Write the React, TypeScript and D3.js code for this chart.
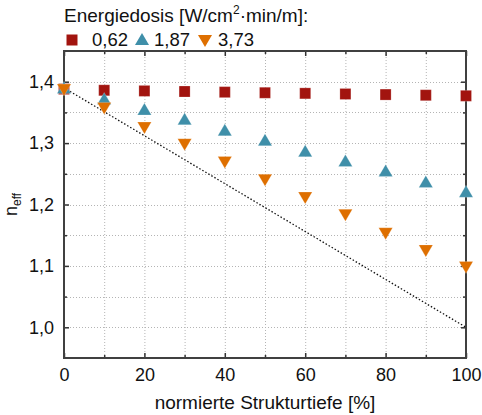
import React, { useRef, useEffect } from "react";
import * as d3 from "d3";

// normierte Strukturtiefe [%]
const depth = [0, 10, 20, 30, 40, 50, 60, 70, 80, 90, 100];

// n_eff per Energiedosis
const dose062 = [1.388, 1.386, 1.385, 1.384, 1.383, 1.382, 1.381, 1.38, 1.379, 1.378, 1.377];
const dose187 = [1.389, 1.371, 1.354, 1.338, 1.32, 1.304, 1.286, 1.27, 1.254, 1.236, 1.22];
const dose373 = [1.388, 1.358, 1.326, 1.299, 1.27, 1.241, 1.212, 1.184, 1.154, 1.126, 1.099];

const seriesNames = ["0,62", "1,87", "3,73"];
const seriesColors = ["#a2140f", "#3f8fa9", "#de6f00"];
const seriesShapes = ["square", "up", "down"];

// dotted reference line
const refX = [0, 100];
const refY = [1.39, 1.0];

const xTicks = [0, 20, 40, 60, 80, 100];
const yTicks = [1.0, 1.1, 1.2, 1.3, 1.4];

const FONT = "'Liberation Sans', Arial, sans-serif";

const App = () => {
  const ref = useRef<SVGSVGElement>(null);

  useEffect(() => {
    const svg = d3.select(ref.current);
    svg.selectAll("*").remove();

    const margin = { top: 51, right: 16, bottom: 57, left: 64 };
    const width = 482;
    const height = 415;

    const x = d3.scaleLinear().domain([0, 100]).range([margin.left, width - margin.right]);
    const y = d3.scaleLinear().domain([0.95, 1.45]).range([height - margin.bottom, margin.top]);

    const [x0, x1] = x.range();
    const [y0, y1] = y.range();

    // grid
    const grid = svg.append("g").attr("stroke", "#b4b4b4").attr("stroke-width", 1).attr("stroke-dasharray", "1,2");
    grid
      .selectAll(".gx")
      .data(d3.range(10, 100, 10))
      .join("line")
      .attr("x1", (d) => x(d) + 0.5)
      .attr("x2", (d) => x(d) + 0.5)
      .attr("y1", y1)
      .attr("y2", y0);
    grid
      .selectAll(".gy")
      .data(d3.range(1.0, 1.45, 0.05))
      .join("line")
      .attr("x1", x0)
      .attr("x2", x1)
      .attr("y1", (d) => Math.round(y(d)) + 0.5)
      .attr("y2", (d) => Math.round(y(d)) + 0.5);

    // reference line
    const line = d3
      .line<number>()
      .x((_, i) => x(refX[i]))
      .y((d) => y(d));
    svg
      .append("path")
      .attr("d", line(refY))
      .attr("fill", "none")
      .attr("stroke", "#111")
      .attr("stroke-width", 1.3)
      .attr("stroke-dasharray", "1.5,2");

    // axes with inward ticks on all sides
    const tickStroke = "#333";
    const xMinor = d3.range(10, 100, 20);
    const yMinor = d3.range(0.95, 1.45, 0.1).map((d) => +d.toFixed(2)).filter((d) => d > 0.95);

    const bottom = svg.append("g").attr("transform", `translate(0,${y0})`);
    bottom
      .call(d3.axisBottom(x).tickValues(xTicks).tickSize(-5).tickPadding(10).tickFormat(d3.format("d")))
      .call((g) => g.select(".domain").remove());
    bottom.append("g").call(d3.axisBottom(x).tickValues(xMinor).tickSize(-3).tickFormat(() => ""))
      .call((g) => g.select(".domain").remove());

    const top = svg.append("g").attr("transform", `translate(0,${y1})`);
    top.call(d3.axisTop(x).tickValues(xTicks).tickSize(-5).tickFormat(() => "")).call((g) => g.select(".domain").remove());
    top.append("g").call(d3.axisTop(x).tickValues(xMinor).tickSize(-3).tickFormat(() => ""))
      .call((g) => g.select(".domain").remove());

    const left = svg.append("g").attr("transform", `translate(${x0},0)`);
    left
      .call(d3.axisLeft(y).tickValues(yTicks).tickSize(-5).tickPadding(10).tickFormat((d) => d3.format(".1f")(d as number).replace(".", ",")))
      .call((g) => g.select(".domain").remove());
    left.append("g").call(d3.axisLeft(y).tickValues(yMinor).tickSize(-3).tickFormat(() => ""))
      .call((g) => g.select(".domain").remove());

    const right = svg.append("g").attr("transform", `translate(${x1},0)`);
    right.call(d3.axisRight(y).tickValues(yTicks).tickSize(-5).tickFormat(() => "")).call((g) => g.select(".domain").remove());
    right.append("g").call(d3.axisRight(y).tickValues(yMinor).tickSize(-3).tickFormat(() => ""))
      .call((g) => g.select(".domain").remove());

    svg.selectAll(".tick line").attr("stroke", tickStroke).attr("stroke-width", 1.5);
    svg.selectAll(".tick text").attr("font-family", FONT).attr("font-size", 18).attr("fill", "#111");

    // frame
    svg
      .append("rect")
      .attr("x", x0)
      .attr("y", y1)
      .attr("width", x1 - x0)
      .attr("height", y0 - y1)
      .attr("fill", "none")
      .attr("stroke", "#404040")
      .attr("stroke-width", 2);

    // markers
    const symbolFor = (shape: string, cx: number, cy: number) => {
      if (shape === "square") {
        const s = 5.5;
        return `M${cx - s},${cy - s}h${2 * s}v${2 * s}h${-2 * s}Z`;
      }
      const w = 7;
      const h = 12;
      if (shape === "up") {
        return `M${cx},${cy - h * 0.58}L${cx + w},${cy + h * 0.42}L${cx - w},${cy + h * 0.42}Z`;
      }
      return `M${cx},${cy + h * 0.58}L${cx + w},${cy - h * 0.42}L${cx - w},${cy - h * 0.42}Z`;
    };

    const allSeries = [dose062, dose187, dose373];
    allSeries.forEach((vals, si) => {
      svg
        .append("g")
        .selectAll("path")
        .data(vals)
        .join("path")
        .attr("d", (d, i) => symbolFor(seriesShapes[si], x(depth[i]), y(d)))
        .attr("fill", seriesColors[si])
        .attr("stroke", "#fff")
        .attr("stroke-opacity", 0.35)
        .attr("stroke-width", 0.6);
    });

    // legend
    svg
      .append("text")
      .attr("x", 64)
      .attr("y", 22)
      .attr("font-family", FONT)
      .attr("font-size", 19)
      .attr("fill", "#111")
      .call((t) => {
        t.append("tspan").text("Energiedosis [W/cm");
        t.append("tspan").attr("font-size", 12).attr("dy", -8).text("2");
        t.append("tspan").attr("dy", 8).text("·min/m]:");
      });

    const legendItems = [
      { mx: 72, tx: 92 },
      { mx: 142, tx: 154 },
      { mx: 205, tx: 218 },
    ];
    legendItems.forEach((it, si) => {
      svg
        .append("path")
        .attr("d", symbolFor(seriesShapes[si], it.mx, 40))
        .attr("fill", seriesColors[si]);
      svg
        .append("text")
        .attr("x", it.tx)
        .attr("y", 46)
        .attr("font-family", FONT)
        .attr("font-size", 18.5)
        .attr("fill", "#111")
        .text(seriesNames[si]);
    });

    // axis titles
    svg
      .append("text")
      .attr("x", (x0 + x1) / 2)
      .attr("y", 409)
      .attr("text-anchor", "middle")
      .attr("font-family", FONT)
      .attr("font-size", 19)
      .attr("fill", "#111")
      .text("normierte Strukturtiefe [%]");

    svg
      .append("text")
      .attr("transform", `translate(17,${(y0 + y1) / 2}) rotate(-90)`)
      .attr("text-anchor", "middle")
      .attr("font-family", FONT)
      .attr("font-size", 18)
      .attr("fill", "#111")
      .call((t) => {
        t.append("tspan").text("n");
        t.append("tspan").attr("font-size", 12).attr("dy", 4).text("eff");
      });
  }, []);

  return <svg ref={ref} width={482} height={415} style={{ position: "absolute", left: 0, top: 0 }} />;
};

export default App;
